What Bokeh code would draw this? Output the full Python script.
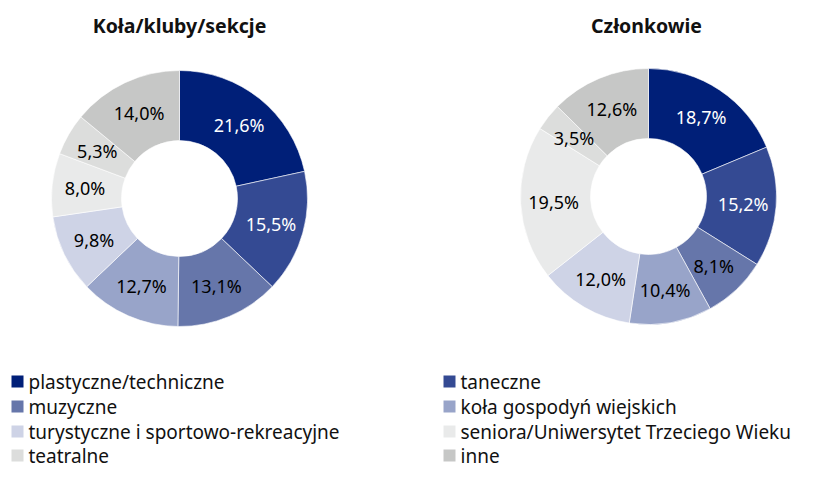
import numpy as np
from bokeh.plotting import figure
from bokeh.models import Range1d, ColumnDataSource
from bokeh.core.properties import value
from bokeh.embed import file_html
from bokeh.resources import INLINE

categories = ["plastyczne/techniczne", "taneczne", "muzyczne", "koła gospodyń wiejskich",
              "turystyczne i sportowo-rekreacyjne", "seniora/Uniwersytet Trzeciego Wieku",
              "teatralne", "inne"]
kola_values = [21.6, 15.5, 13.1, 12.7, 9.8, 8.0, 5.3, 14.0]
czlonkowie_values = [18.7, 15.2, 8.1, 10.4, 12.0, 19.5, 3.5, 12.6]
titles = ["Koła/kluby/sekcje", "Członkowie"]
colors = ["#001f78", "#344a93", "#6676aa", "#98a4c9", "#ced3e6", "#e9eaea", "#dcdddc", "#c6c7c6"]
label_colors = ["white", "white", "black", "black", "black", "black", "black", "black"]

W, H = 817, 472
FONT = "Noto Sans"

p = figure(width=W, height=H, x_range=Range1d(0, W), y_range=Range1d(0, H),
           output_backend="svg", toolbar_location=None, min_border=0)
p.axis.visible = False
p.grid.visible = False
p.outline_line_color = None
p.background_fill_color = "white"

# positions given from the top-left corner (y measured downward)
centers = [(179, 198), (648, 196)]
title_x = [179, 646]
R_OUT, R_IN, R_LAB = 128, 58, 95

for (cx, cyt), tx, vals, title in zip(centers, title_x, [kola_values, czlonkowie_values], titles):
    cy = H - cyt
    v = np.array(vals)
    frac = v / v.sum()
    cum = np.concatenate([[0], np.cumsum(frac)])
    start = np.pi / 2 - cum[:-1] * 2 * np.pi
    end = np.pi / 2 - cum[1:] * 2 * np.pi
    mid = (start + end) / 2
    src = ColumnDataSource(dict(
        x=[cx] * len(v), y=[cy] * len(v), start=start, end=end, color=colors,
        lx=cx + R_LAB * np.cos(mid), ly=cy + R_LAB * np.sin(mid),
        label=[f"{x:.1f}".replace(".", ",") + "%" for x in vals],
        lcolor=label_colors,
    ))
    p.annular_wedge(x="x", y="y", inner_radius=R_IN, outer_radius=R_OUT,
                    start_angle="start", end_angle="end", direction="clock",
                    fill_color="color", line_color="white", line_width=0.6, source=src)
    p.text(x="lx", y="ly", text="label", text_color="lcolor", text_align="center",
           text_baseline="middle", text_font=value(FONT), text_font_size="18px", source=src)
    p.text(x=[tx], y=[H - 25], text=[title], text_align="center", text_baseline="middle",
           text_font=value(FONT), text_font_style="bold", text_font_size="19.5px",
           text_color="#111111")

# legend (2 columns, row-major)
col_sq_x = [17, 449]
col_tx_x = [28, 460]
row_y_top = [381, 406, 431, 455]
lsrc = ColumnDataSource(dict(
    sx=[col_sq_x[i % 2] for i in range(len(categories))],
    tx=[col_tx_x[i % 2] for i in range(len(categories))],
    y=[H - row_y_top[i // 2] for i in range(len(categories))],
    color=colors, name=categories,
))
p.rect(x="sx", y="y", width=12, height=12, fill_color="color", line_color=None, source=lsrc)
p.text(x="tx", y="y", text="name", text_align="left", text_baseline="middle",
       text_font=value(FONT), text_font_size="19px", text_color="#111111", source=lsrc)

open("out.html", "w").write(file_html(p, INLINE))
